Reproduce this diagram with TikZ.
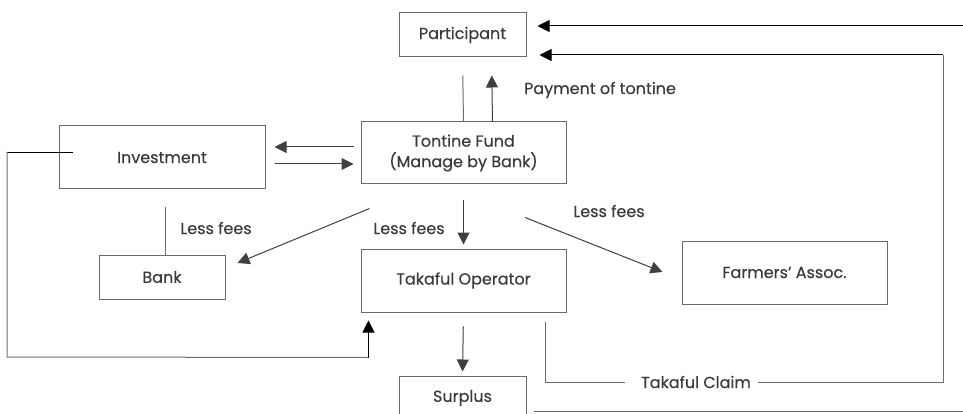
\documentclass[tikz,border=0pt]{standalone}
\usepackage{fontspec}
\setmainfont{Poppins}[UprightFeatures={FakeBold=0.35}]
\usetikzlibrary{arrows.meta,calc}
\definecolor{boxline}{HTML}{6A6A6A}
\definecolor{txt}{HTML}{3A3A3A}
\definecolor{conn}{HTML}{6E6E6E}
\definecolor{tipc}{HTML}{404040}
\tikzset{
  blk/.style={draw=boxline,line width=1pt,text=txt,font=\fontsize{16}{20.5}\selectfont,inner sep=0pt,align=center},
  lbl/.style={text=txt,font=\fontsize{16}{20.5}\selectfont,inner sep=0pt},
  conline/.style={draw=conn,line width=1pt},
  arr/.style={draw=conn,line width=1pt,-{Triangle[length=12pt,width=12pt]},tipc},
  blackarr/.style={draw=black,line width=1pt,-{Triangle[length=12pt,width=12pt]}},
}
\begin{document}
\begin{tikzpicture}[x=1pt,y=-1pt]
\useasboundingbox (0,0) rectangle (963,414);
\clip (0,0) rectangle (963,414);
% boxes
\node[blk,minimum width=127pt,minimum height=44pt] (part) at (462.5,35) {Participant};
\node[blk,minimum width=206pt,minimum height=63pt] (inv) at (162,157.5) {Investment};
\node[blk,minimum width=205pt,minimum height=62pt] (fund) at (463.5,153) {Tontine Fund\\(Manage by Bank)};
\node[blk,minimum width=126pt,minimum height=44pt] (bank) at (162,277) {Bank};
\node[blk,minimum width=205pt,minimum height=63pt] (tak) at (463.5,280.5) {Takaful Operator};
\node[blk,minimum width=205pt,minimum height=63pt] (farm) at (784.5,272.5) {Farmers’ Assoc.};
\node[blk,minimum width=127pt,minimum height=44pt] (sur) at (462.5,398) {Surplus};
% labels
\node[lbl] (pay) at (600,90) {Payment of tontine};
\node[lbl] (lf1) at (216,228) {Less fees};
\node[lbl] (lf2) at (409,228) {Less fees};
\node[lbl] (lf3) at (609,211) {Less fees};
\node[lbl] (tc) at (696,382) {Takaful Claim};
% free ends
\coordinate (in1) at (963,26);
\coordinate (rc) at (943,55);
\coordinate (out1) at (963,411);
\coordinate (lx) at (7,152);
\coordinate (ly) at (7,357);
\coordinate (tcl) at (625,382);
\coordinate (tcr) at (758,382);
% participant links
\draw[blackarr,shorten >=11pt] (in1) -- (in1 -| part.east);
\draw[conline] (545,312 |- tak.south) ++(0,9) coordinate (tcs) -- (tcs |- tcl) -- (tcl);
\draw[conline] (tcr) -| (rc);
\draw[blackarr,shorten >=13pt] (rc) -- (rc -| part.east);
\draw[conline,shorten <=7pt] (sur.east |- out1) -- (out1);
% fund <-> participant
\draw[conline,shorten >=18pt] (fund.north) -- (part.south);
\draw[arr,shorten >=18pt] ($(fund.north)+(29,0)$) -- ($(part.south)+(29,0)$);
% fund <-> investment
\draw[arr,shorten <=7pt,shorten >=9pt] ($(fund.west)+(0,-6)$) -- ($(inv.east)+(0,-10.5)$);
\draw[arr,shorten <=9pt,shorten >=7pt] ($(inv.east)+(0,6.5)$) -- ($(fund.west)+(0,11)$);
% investment -- bank
\draw[conline] ($(bank.north)+(3,0)$) -- ++(0,-48);
% fund -> bank / takaful / farmers
\draw[arr] ($(fund.south west)+(9,24)$) -- ($(bank.east)+(12,-14)$);
\draw[arr,shorten <=15pt,shorten >=4pt] (fund.south) -- (tak.north);
\draw[arr] ($(fund.south)+(61.5,33)$) -- ($(farm.west)+(-19,-0.5)$);
% takaful -> surplus
\draw[arr,shorten <=14pt,shorten >=4pt] (tak.south) -- (sur.north);
% investment loop -> takaful
\draw[draw=black,line width=0.9pt] ($(inv.west)+(14,-5.5)$) -- (lx);
\draw[conline] (lx) -- (ly) -- ($(tak.south west)+(8,45)$);
\draw[blackarr] ($(tak.south west)+(8,45)$) -- ($(tak.south west)+(8,8)$);
\end{tikzpicture}
\end{document}
